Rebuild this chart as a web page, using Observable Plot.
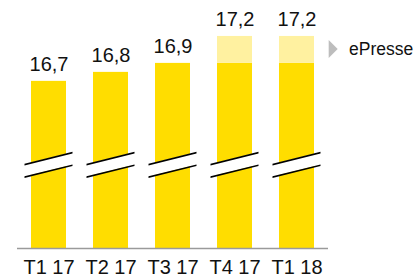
<!DOCTYPE html>
<html>
<head>
<meta charset="utf-8">
<script src="https://cdn.jsdelivr.net/npm/d3@7"></script>
<script src="https://cdn.jsdelivr.net/npm/@observablehq/plot@0.6"></script>
<style>
  html, body { margin: 0; padding: 0; background: #fff; }
  #chart { width: 415px; height: 277px; }
</style>
</head>
<body>
<div id="chart"></div>
<script>
// ---- data ----
const categories = ["T1 17", "T2 17", "T3 17", "T4 17", "T1 18"];
const printValues = [16.7, 16.8, 16.9, 16.9, 16.9];
const ePresseValues = [0, 0, 0, 0.3, 0.3];
const legendLabel = "ePresse";

// broken axis: visible base value and break position (value units)
const axisBase = 14.84;
const breakLow = 15.70;
const breakHigh = 15.84;

const rows = categories.map((c, i) => ({
  cat: c,
  print: printValues[i],
  epresse: ePresseValues[i],
  total: printValues[i] + ePresseValues[i]
}));
const fmt = v => d3.format(".1f")(v).replace(".", ",");

const triangle = {
  draw(ctx) {
    ctx.moveTo(-4.3, -9);
    ctx.lineTo(4.7, 0);
    ctx.lineTo(-4.3, 9);
    ctx.closePath();
  }
};

const FONT = "'Liberation Sans', Arial, Helvetica, sans-serif";

const svg = Plot.plot({
  width: 415,
  height: 277,
  marginTop: 0,
  marginBottom: 29,
  marginLeft: 17,
  marginRight: 87,
  style: { fontFamily: FONT, fontSize: "20px", color: "#111", background: "#fff", overflow: "visible" },
  x: {
    domain: categories,
    paddingInner: 0.44,
    paddingOuter: 0.225,
    tickSize: 0,
    tickPadding: 11,
    label: null
  },
  y: { domain: [axisBase, 17.6], axis: null },
  marks: [
    Plot.barY(rows, { x: "cat", y1: axisBase, y2: "print", fill: "#FFDD00" }),
    Plot.barY(rows.filter(d => d.epresse > 0), { x: "cat", y1: "print", y2: "total", fill: "#FFF1A0" }),
    Plot.barY(rows, { x: "cat", y1: breakLow, y2: breakHigh, fill: "#fff", ariaDescription: "break-band" }),
    Plot.tickY(rows, { x: "cat", y: breakHigh, stroke: "#000", strokeWidth: 1.7, insetLeft: -6.5, insetRight: -6.5, ariaDescription: "break-line" }),
    Plot.tickY(rows, { x: "cat", y: breakLow, stroke: "#000", strokeWidth: 1.7, insetLeft: -6.5, insetRight: -6.5, ariaDescription: "break-line" }),
    Plot.ruleY([axisBase], { stroke: "#9a9a9a", strokeWidth: 1.5 }),
    Plot.text(rows, { x: "cat", y: "total", text: d => fmt(d.total), lineAnchor: "bottom", dy: -10.7, fontSize: 20, fill: "#111" }),
    Plot.dot([rows[rows.length - 1]], { x: "cat", y: d => d.print + d.epresse / 2, symbol: triangle, fill: "#bdbdbd", stroke: null, dx: 36, dy: -1 }),
    Plot.text([rows[rows.length - 1]], { x: "cat", y: d => d.print + d.epresse / 2, text: () => legendLabel, textAnchor: "start", dx: 52, dy: -0.5, fontSize: 17.5, fill: "#111" })
  ]
});

d3.select(svg).selectAll('g[aria-description="break-band"] > *, g[aria-description="break-line"] > *')
  .style("transform-box", "fill-box")
  .style("transform-origin", "center")
  .style("transform", "skewY(-14deg)");

document.getElementById("chart").appendChild(svg);
</script>
</body>
</html>
